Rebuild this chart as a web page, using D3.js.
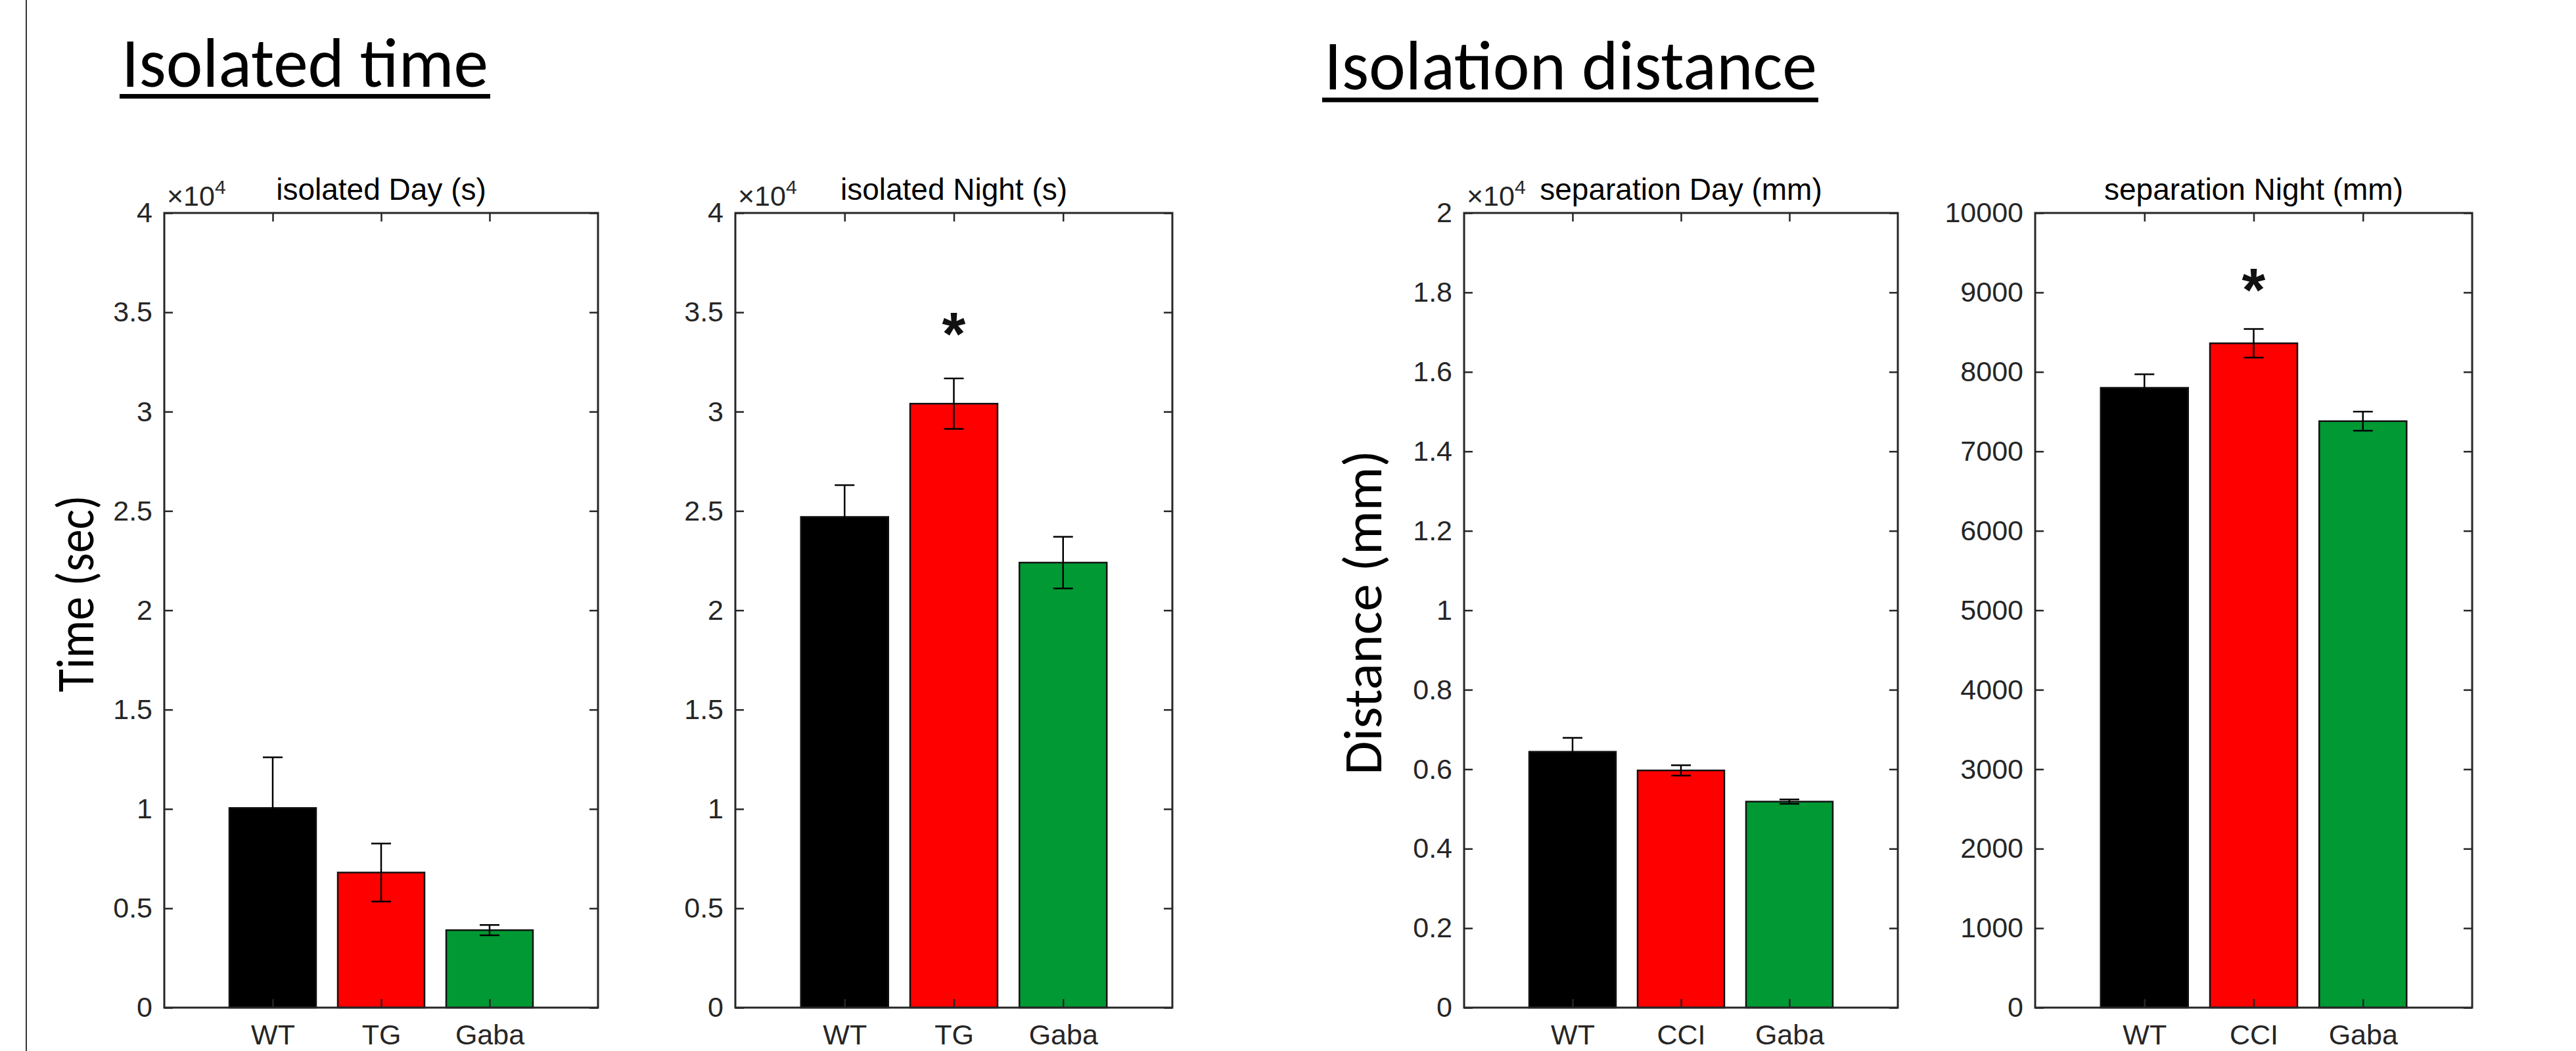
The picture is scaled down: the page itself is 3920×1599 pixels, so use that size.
<!DOCTYPE html>
<html>
<head>
<meta charset="utf-8">
<script src="https://cdn.jsdelivr.net/npm/d3@7"></script>
<style>
  html, body { margin: 0; padding: 0; background: #fff; }
  svg { display: block; }
</style>
</head>
<body>
<svg id="chart" width="3920" height="1599"></svg>
<script>
// ---------------- DATA ----------------
const groupsTime = ["WT", "TG", "Gaba"];
const groupsDist = ["WT", "CCI", "Gaba"];

const isolatedDayMean   = [10050, 6800, 3900];
const isolatedDayErr    = [2550, 1460, 260];
const isolatedNightMean = [24700, 30400, 22400];
const isolatedNightErr  = [1600, 1270, 1300];
const separationDayMean   = [6440, 5970, 5185];
const separationDayErr    = [350, 130, 55];
const separationNightMean = [7800, 8360, 7380];
const separationNightErr  = [170, 180, 120];

const barColors = ["#000000", "#ff0000", "#009933"];

const ticksTime  = [0, 5000, 10000, 15000, 20000, 25000, 30000, 35000, 40000];
const ticksDistDay = [0, 2000, 4000, 6000, 8000, 10000, 12000, 14000, 16000, 18000, 20000];
const ticksDistNight = [0, 1000, 2000, 3000, 4000, 5000, 6000, 7000, 8000, 9000, 10000];

const panelTitles = ["isolated Day (s)", "isolated Night (s)", "separation Day (mm)", "separation Night (mm)"];
const sectionTitles = ["Isolated time", "Isolation distance"];
const yAxisLabels = ["Time (sec)", "Distance (mm)"];

// significance stars: [panel index, group index, y value]
const sigPanel = [1, 3];
const sigGroup = [1, 1];
const sigY = [33900, 9030];

// ---------------- LAYOUT ----------------
const svg = d3.select("#chart");
const TOP = 324, BOTTOM = 1533;
const panels = [
  { x0: 250,  x1: 910,  cats: groupsTime, mean: isolatedDayMean,   err: isolatedDayErr,   max: 40000, ticks: ticksTime,      scaleExp: true },
  { x0: 1119, x1: 1784, cats: groupsTime, mean: isolatedNightMean, err: isolatedNightErr, max: 40000, ticks: ticksTime,      scaleExp: true },
  { x0: 2228, x1: 2888, cats: groupsDist, mean: separationDayMean, err: separationDayErr,  max: 20000, ticks: ticksDistDay,   scaleExp: true },
  { x0: 3097, x1: 3762, cats: groupsDist, mean: separationNightMean, err: separationNightErr, max: 10000, ticks: ticksDistNight, scaleExp: false }
];

const AXC = "#262626";
const tickFont = "'Liberation Sans', Arial, Helvetica, sans-serif";
const headFont = "Carlito, Calibri, Lato, 'Open Sans', sans-serif";
const fmt = d3.format("~g");

// Left border line
svg.append("line").attr("x1", 40).attr("x2", 40).attr("y1", 0).attr("y2", 1599)
  .attr("stroke", "#333").attr("stroke-width", 2);

panels.forEach((p, pi) => {
  const x = d3.scaleLinear().domain([0, 4]).range([p.x0, p.x1]);
  const y = d3.scaleLinear().domain([0, p.max]).range([BOTTOM, TOP]);
  const g = svg.append("g");
  const bw = x(0.8) - x(0);

  // bars
  g.selectAll("rect.bar").data(p.mean).enter().append("rect")
    .attr("class", "bar")
    .attr("x", (d, i) => x(i + 1) - bw / 2)
    .attr("width", bw)
    .attr("y", d => y(d))
    .attr("height", d => y(0) - y(d))
    .attr("fill", (d, i) => barColors[i])
    .attr("stroke", "#111")
    .attr("stroke-width", 2.5);

  // error bars
  const cap = 15;
  p.mean.forEach((m, i) => {
    const cx = x(i + 1);
    const e = p.err[i];
    g.append("line").attr("x1", cx).attr("x2", cx).attr("y1", y(m - e)).attr("y2", y(m + e))
      .attr("stroke", "#000").attr("stroke-width", 2.5);
    [m - e, m + e].forEach(v => {
      g.append("line").attr("x1", cx - cap).attr("x2", cx + cap).attr("y1", y(v)).attr("y2", y(v))
        .attr("stroke", "#000").attr("stroke-width", 2.5);
    });
  });

  // axes (inward ticks on all sides)
  const tickFmt = p.scaleExp ? (d => fmt(d / 10000)) : (d => fmt(d));
  const left = g.append("g").attr("transform", `translate(${p.x0},0)`)
    .call(d3.axisLeft(y).tickValues(p.ticks).tickFormat(tickFmt).tickSize(-13).tickSizeOuter(0).tickPadding(18));
  const right = g.append("g").attr("transform", `translate(${p.x1},0)`)
    .call(d3.axisRight(y).tickValues(p.ticks).tickFormat("").tickSize(-13).tickSizeOuter(0));
  const bottom = g.append("g").attr("transform", `translate(0,${BOTTOM})`)
    .call(d3.axisBottom(x).tickValues([1, 2, 3]).tickFormat(d => p.cats[d - 1]).tickSize(-13).tickSizeOuter(0).tickPadding(25));
  const top = g.append("g").attr("transform", `translate(0,${TOP})`)
    .call(d3.axisTop(x).tickValues([1, 2, 3]).tickFormat("").tickSize(-13).tickSizeOuter(0));
  [left, right, bottom, top].forEach(a => {
    a.select(".domain").remove();
    a.selectAll(".tick line").attr("stroke", AXC).attr("stroke-width", 2.5);
    a.selectAll("text").attr("fill", AXC).attr("font-family", tickFont).attr("font-size", 43);
  });

  // box
  g.append("rect").attr("x", p.x0).attr("y", TOP).attr("width", p.x1 - p.x0).attr("height", BOTTOM - TOP)
    .attr("fill", "none").attr("stroke", AXC).attr("stroke-width", 3);

  // exponent label
  if (p.scaleExp) {
    const t = g.append("text").attr("x", p.x0 + 4).attr("y", 313)
      .attr("font-family", tickFont).attr("font-size", 43).attr("fill", AXC);
    t.append("tspan").text("×10");
    t.append("tspan").attr("font-size", 30).attr("dy", -18).text("4");
  }

  // title
  g.append("text").attr("x", (p.x0 + p.x1) / 2).attr("y", 304).attr("text-anchor", "middle")
    .attr("font-family", tickFont).attr("font-size", 46).attr("fill", "#000").text(panelTitles[pi]);

  // significance stars
  sigPanel.forEach((sp, k) => {
    if (sp !== pi) return;
    g.append("text").attr("x", x(sigGroup[k] + 1)).attr("y", y(sigY[k]) + 32)
      .attr("text-anchor", "middle").attr("font-family", tickFont).attr("font-weight", "bold")
      .attr("font-size", 92).attr("fill", "#111").text("*");
  });
});

// Section headings (underlined)
const heads = [
  { x: 185, base: 132, w: 558, ul0: 182, ul1: 746, uly: 146.5 },
  { x: 2015, base: 136, w: 750, ul0: 2012, ul1: 2767, uly: 152 }
];
heads.forEach((h, i) => {
  svg.append("text").attr("x", h.x).attr("y", h.base)
    .attr("font-family", headFont).attr("font-size", 106).attr("fill", "#000")
    .attr("textLength", h.w).attr("lengthAdjust", "spacingAndGlyphs")
    .text(sectionTitles[i]);
  svg.append("line").attr("x1", h.ul0).attr("x2", h.ul1).attr("y1", h.uly).attr("y2", h.uly)
    .attr("stroke", "#000").attr("stroke-width", 7);
});

// Y axis labels (rotated)
const ylabs = [
  { cx: 142, cy: 903, w: 300, fs: 80 },
  { cx: 2102, cy: 932, w: 494, fs: 82 }
];
ylabs.forEach((l, i) => {
  svg.append("text").attr("transform", `translate(${l.cx},${l.cy}) rotate(-90)`)
    .attr("text-anchor", "middle")
    .attr("font-family", headFont).attr("font-size", l.fs).attr("fill", "#000")
    .attr("textLength", l.w).attr("lengthAdjust", "spacingAndGlyphs")
    .text(yAxisLabels[i]);
});
</script>
</body>
</html>
